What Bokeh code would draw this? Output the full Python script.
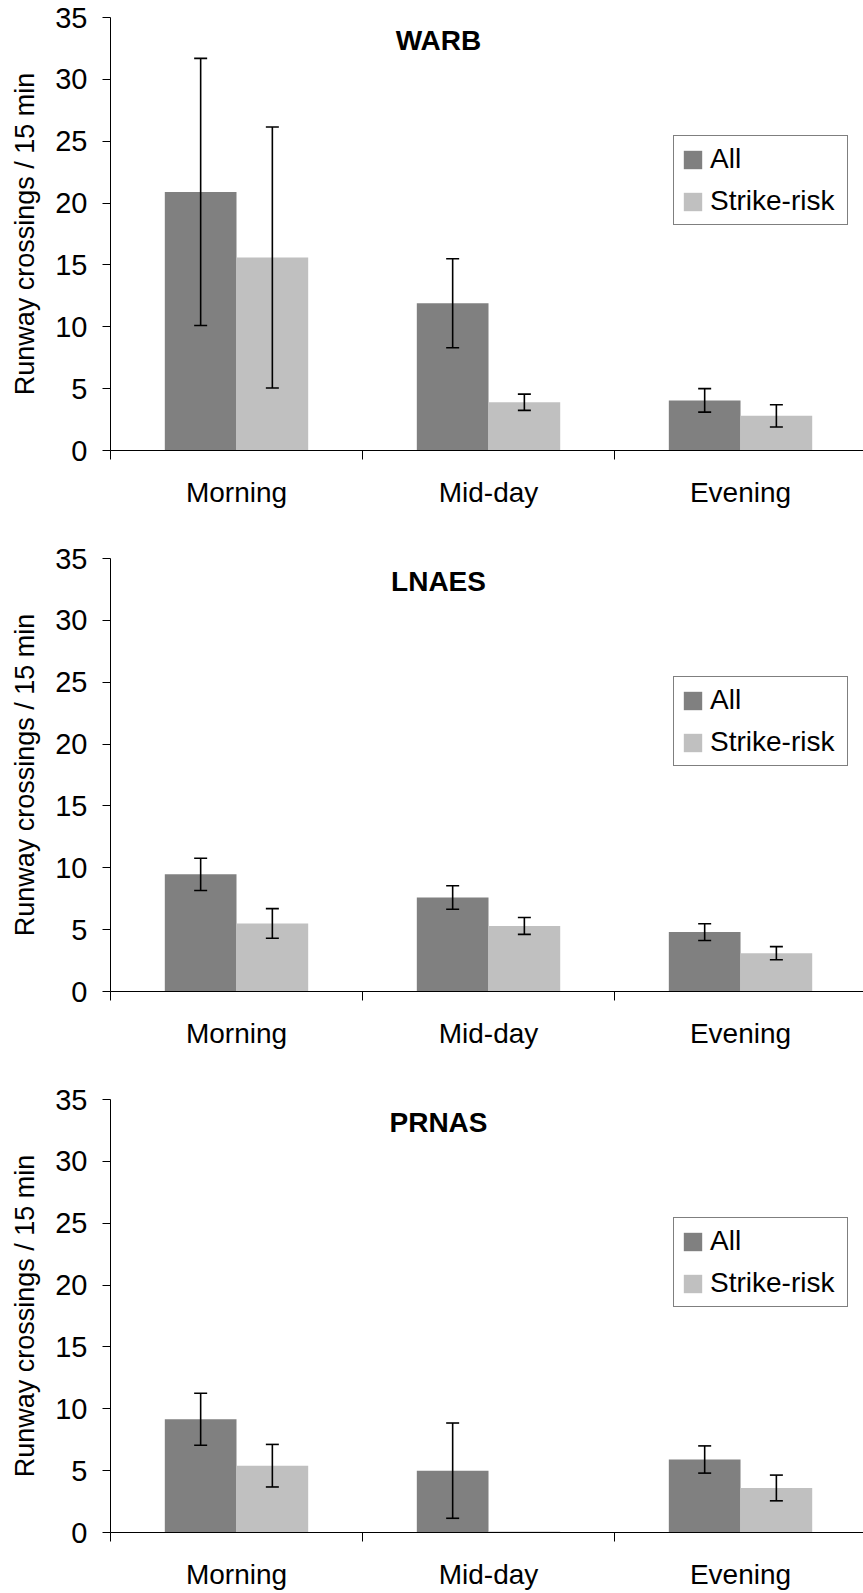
from bokeh.plotting import figure
from bokeh.models import (Range1d, FixedTicker, Legend, LegendItem, Whisker, TeeHead,
                          ColumnDataSource, Label, LinearAxis)
from bokeh.layouts import column
from bokeh.embed import file_html
from bokeh.resources import INLINE
import numpy as np

# ---------------- data ----------------
categories = ["Morning", "Mid-day", "Evening"]
y_ticks = [0, 5, 10, 15, 20, 25, 30, 35]
series_names = ["All", "Strike-risk"]
panel_titles = ["WARB", "LNAES", "PRNAS"]

warb_all = [20.9, 11.9, 4.05]
warb_all_err = [10.8, 3.6, 0.95]
warb_risk = [15.6, 3.9, 2.8]
warb_risk_err = [10.55, 0.66, 0.9]

lnaes_all = [9.47, 7.6, 4.8]
lnaes_all_err = [1.3, 0.95, 0.68]
lnaes_risk = [5.5, 5.3, 3.1]
lnaes_risk_err = [1.2, 0.68, 0.53]

prnas_all = [9.15, 5.0, 5.9]
prnas_all_err = [2.1, 3.85, 1.1]
prnas_risk = [5.4, 0.08, 3.6]
prnas_risk_err = [1.72, 0.0, 1.04]

panels = [
    (panel_titles[0], warb_all, warb_all_err, warb_risk, warb_risk_err),
    (panel_titles[1], lnaes_all, lnaes_all_err, lnaes_risk, lnaes_risk_err),
    (panel_titles[2], prnas_all, prnas_all_err, prnas_risk, prnas_risk_err),
]

# ---------------- style ----------------
FONT = "Liberation Sans"
COL_ALL = "#808080"
COL_RISK = "#c0c0c0"
BAR_W = 0.2845
W = 863
FRAME_H = 433
heights = [541, 541, 511]
tops = [17, 17, 17]


def make_panel(title, a, ae, r, re_, height, top):
    bottom = height - top - FRAME_H
    p = figure(width=W, height=height, output_backend="svg", toolbar_location=None,
               x_range=Range1d(0, 2.988), y_range=Range1d(0, 35),
               min_border_left=110, min_border_right=0,
               min_border_top=top, min_border_bottom=bottom,
               x_axis_type=None, y_axis_type=None)
    p.outline_line_color = None
    p.xgrid.visible = False
    p.ygrid.visible = False

    centers = np.arange(len(categories)) + 0.5
    xa = centers - BAR_W / 2
    xr = centers + BAR_W / 2

    r1 = p.vbar(x=xa, top=a, width=BAR_W, bottom=0, fill_color=COL_ALL, line_color=None)
    r2 = p.vbar(x=xr, top=r, width=BAR_W, bottom=0, fill_color=COL_RISK, line_color=None)

    # error bars
    xs, ups, lows = [], [], []
    for xx, v, e in list(zip(xa, a, ae)) + list(zip(xr, r, re_)):
        if e > 0:
            xs.append(xx)
            ups.append(v + e)
            lows.append(v - e)
    src = ColumnDataSource(dict(x=xs, upper=ups, lower=lows))
    wh = Whisker(source=src, base="x", upper="upper", lower="lower", dimension="height",
                 line_color="black", line_width=1.6, level="annotation",
                 upper_head=TeeHead(size=13, line_width=1.6, line_color="black"),
                 lower_head=TeeHead(size=13, line_width=1.6, line_color="black"))
    p.add_layout(wh)

    # y axis
    yax = LinearAxis(ticker=FixedTicker(ticks=y_ticks, minor_ticks=[]),
                     axis_label="Runway crossings / 15 min")
    yax.axis_label_text_font = FONT
    yax.axis_label_text_font_size = "27px"
    yax.axis_label_text_font_style = "normal"
    yax.axis_label_text_color = "black"
    yax.axis_label_standoff = 12
    yax.major_label_text_font = FONT
    yax.major_label_text_font_size = "29px"
    yax.major_label_text_color = "black"
    yax.major_label_standoff = 15
    yax.major_tick_out = 8
    yax.major_tick_in = 0
    yax.minor_tick_out = 0
    yax.minor_tick_in = 0
    yax.axis_line_color = "black"
    yax.major_tick_line_color = "black"
    p.add_layout(yax, "left")

    # x axis: labels at category centres, ticks at category boundaries
    xax = LinearAxis(ticker=FixedTicker(ticks=list(centers),
                                        minor_ticks=list(range(len(categories) + 1))))
    xax.major_label_overrides = {float(c): cat for c, cat in zip(centers, categories)}
    xax.major_label_text_font = FONT
    xax.major_label_text_font_size = "28px"
    xax.major_label_text_color = "black"
    xax.major_label_standoff = 17
    xax.major_tick_out = 0
    xax.major_tick_in = 0
    xax.minor_tick_out = 9
    xax.minor_tick_in = 0
    xax.minor_tick_line_color = "black"
    xax.axis_line_color = "black"
    p.add_layout(xax, "below")

    # panel title
    p.add_layout(Label(x=328, y=FRAME_H - 23, x_units="screen", y_units="screen",
                       text=title, text_font=FONT, text_font_size="28px",
                       text_font_style="bold", text_align="center",
                       text_baseline="middle", text_color="black"))

    legend = Legend(items=[LegendItem(label=series_names[0], renderers=[r1]),
                           LegendItem(label=series_names[1], renderers=[r2])],
                    location=(563, 225))
    legend.label_text_font = FONT
    legend.label_text_font_size = "28px"
    legend.label_text_color = "black"
    legend.glyph_width = 23
    legend.glyph_height = 23
    legend.label_standoff = 6
    legend.label_width = 130
    legend.padding = 7
    legend.spacing = 10
    legend.border_line_color = "black"
    legend.border_line_width = 1
    legend.background_fill_color = "white"
    legend.background_fill_alpha = 1
    p.add_layout(legend)
    return p


figs = [make_panel(t, a, ae, r, re_, h, tp)
        for (t, a, ae, r, re_), h, tp in zip(panels, heights, tops)]

layout = column(*figs, spacing=0)
open("out.html", "w").write(file_html(layout, INLINE))
